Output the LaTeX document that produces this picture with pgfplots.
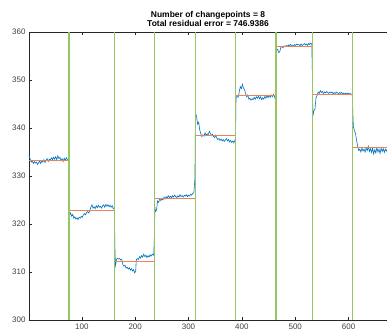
\documentclass[border=0pt]{standalone}
\usepackage{pgfplots}
\pgfplotsset{compat=1.18}
\usepackage{fontspec}
\setmainfont{Liberation Sans}
\definecolor{mblue}{RGB}{0,114,189}
\definecolor{morange}{RGB}{235,130,90}
\definecolor{mgreen}{RGB}{150,198,95}
\definecolor{maxis}{RGB}{38,38,38}
\begin{document}
\begin{tikzpicture}
\begin{axis}[
  scale only axis,
  width=358bp, height=288bp,
  xmin=1, xmax=672, ymin=300, ymax=360,
  axis x line=box, axis y line=left,
  axis line style={-, maxis, line width=0.5pt},
  xtick={100,200,300,400,500,600},
  ytick={300,310,320,330,340,350,360},
  tick align=inside,
  major tick length=3bp,
  tick style={maxis, line width=0.5pt},
  /pgf/number format/assume math mode=true,
  tick label style={font=\fontsize{8}{9}\selectfont, text=black!75},
  title={\textbf{Number of changepoints = 8}\\[-1pt]\textbf{Total residual error = 746.9386}},
  title style={align=center, font=\fontsize{8.5}{10}\selectfont, yshift=-4bp},
  unbounded coords=jump,
  clip=false,
]
% data
\addplot[mblue, line width=0.6pt] coordinates {
(1,334.3) (3,333.6) (5,332.9) (7,333.2) (9,332.6) (11,333.0) (13,332.7) (15,332.9) (17,332.4) (19,332.8)
(21,333.1) (23,332.6) (25,333.2) (27,332.9) (29,333.4) (31,332.8) (33,333.3) (35,333.6) (37,333.0) (39,333.5)
(41,333.3) (43,333.8) (45,333.4) (47,333.9) (49,333.5) (51,334.0) (53,333.4) (55,334.2) (57,333.6) (59,333.9)
(61,333.2) (63,333.6) (65,333.0) (67,333.7) (69,333.3) (71,333.8) (73,333.4) (75,333.1) (76,328.5)
(77,321.8) (79,322.3) (81,321.6) (83,322.0) (85,321.2) (87,321.5) (89,321.0) (91,321.3) (93,320.9) (95,321.4)
(97,321.2) (99,321.6) (101,321.4) (103,321.9) (105,322.2) (107,321.9) (109,322.4) (111,322.6) (113,322.3) (115,322.8)
(117,323.5) (119,324.0) (121,323.3) (123,323.6) (125,323.2) (127,323.8) (129,323.4) (131,323.9) (133,323.5) (135,323.7)
(137,323.3) (139,323.8) (141,324.0) (143,323.5) (145,324.1) (147,323.7) (149,324.0) (151,323.6) (153,323.9) (155,323.5)
(157,323.8) (159,323.2) (161,323.4) (162,315.0)
(163,311.4) (165,312.6) (167,312.9) (169,312.7) (171,312.8) (173,312.5) (175,312.6) (177,311.5) (179,311.2) (181,311.4)
(183,310.8) (185,311.0) (187,310.6) (189,310.9) (191,310.4) (193,310.7) (195,310.2) (197,310.5) (199,309.8) (201,310.2)
(202,312.5) (204,312.8) (206,312.6) (208,313.2) (210,312.9) (212,313.4) (214,313.1) (216,313.7) (218,313.2) (220,313.5)
(222,313.0) (224,313.4) (226,313.1) (228,313.6) (230,313.3) (232,313.7) (234,313.5) (235,314.0) (236,317.5)
(237,323.5) (238,322.6) (240,322.9) (242,324.8) (244,324.5) (246,325.2) (248,324.9) (250,325.3) (252,325.0) (254,325.6)
(256,325.2) (258,325.7) (260,325.4) (262,325.9) (264,325.5) (266,325.8) (268,325.4) (270,325.9) (272,325.6) (274,326.0)
(276,325.7) (278,325.5) (280,325.9) (282,325.6) (284,326.1) (286,325.7) (288,325.9) (290,325.6) (292,326.0) (294,325.8)
(296,326.1) (298,325.7) (300,326.0) (302,325.8) (304,326.2) (306,326.0) (308,326.4) (310,326.5) (312,329.5)
(313,343.0) (315,342.5) (317,340.8) (319,341.2) (321,339.6) (323,338.8) (325,338.2) (327,338.6) (329,338.3) (331,339.0)
(333,338.5) (335,338.8) (337,338.6) (339,339.3) (341,338.9) (343,338.4) (345,338.7) (347,338.2) (349,338.0) (351,338.5)
(353,337.9) (355,337.6) (357,337.8) (359,337.4) (361,337.7) (363,337.3) (365,337.6) (367,337.2) (369,337.5) (371,337.8)
(373,337.3) (375,337.6) (377,337.1) (379,337.4) (381,337.0) (383,337.3) (385,336.9) (387,337.5) (388,338.0)
(389,346.3) (391,346.6) (393,346.4) (395,347.5) (397,348.6) (399,348.2) (401,349.1) (403,348.3) (405,348.0) (407,347.2)
(409,346.5) (411,346.9) (413,346.0) (415,346.2) (417,345.8) (419,346.1) (421,345.9) (423,346.4) (425,346.0) (427,346.5)
(429,346.2) (431,346.6) (433,346.1) (435,346.5) (437,345.9) (439,346.3) (441,346.0) (443,346.6) (445,346.2) (447,346.7)
(449,346.3) (451,346.8) (453,346.4) (455,346.9) (457,346.5) (459,347.0) (461,346.6) (463,345.8) (464,350.0)
(465,356.2) (467,356.4) (469,355.7) (471,355.9) (473,356.8) (475,357.0) (477,356.7) (479,357.1) (481,356.9) (483,357.2)
(485,357.0) (487,357.3) (489,357.1) (491,357.4) (493,357.2) (495,357.3) (497,357.0) (499,357.4) (501,357.2) (503,357.5)
(505,357.3) (507,357.4) (509,357.1) (511,357.5) (513,357.2) (515,357.4) (517,357.6) (519,357.3) (521,357.5) (523,357.2)
(525,357.6) (527,357.4) (529,357.7) (531,357.5) (532,352.0)
(533,342.5) (535,343.6) (537,344.0) (539,346.3) (541,346.8) (543,347.5) (545,347.2) (547,347.8) (549,347.4) (551,347.6)
(553,347.2) (555,347.5) (557,347.3) (559,347.6) (561,347.4) (563,347.2) (565,347.5) (567,347.3) (569,347.5) (571,347.1)
(573,347.4) (575,347.2) (577,347.5) (579,347.3) (581,347.1) (583,347.4) (585,347.2) (587,347.4) (589,347.1) (591,347.3)
(593,347.0) (595,347.3) (597,347.1) (599,347.3) (601,347.0) (603,347.2) (605,346.9) (607,347.1) (608,343.0)
(609,340.2) (611,339.5) (613,338.8) (615,337.4) (617,336.2) (619,335.3) (621,335.6) (623,335.0) (625,335.8) (627,335.2)
(629,335.6) (631,335.0) (633,335.9) (635,335.3) (637,336.2) (639,335.1) (641,335.7) (643,334.9) (645,335.8) (647,334.6)
(649,335.5) (651,334.8) (653,335.9) (655,335.0) (657,335.6) (659,334.7) (661,335.8) (663,335.1) (665,335.7) (667,334.9)
(669,335.6) (671,335.2) (672,335.5)
};
% segment means
\addplot[morange, line width=0.9pt] coordinates {
(1,333.3) (76,333.3) (nan,nan)
(76,322.8) (162,322.8) (nan,nan)
(162,312.1) (236,312.1) (nan,nan)
(236,325.3) (313,325.3) (nan,nan)
(313,338.4) (388,338.4) (nan,nan)
(388,346.7) (464,346.7) (nan,nan)
(464,357.0) (532,357.0) (nan,nan)
(532,347.0) (608,347.0) (nan,nan)
(608,336.0) (672,336.0)
};
% changepoints
\addplot[mgreen, line width=1.1pt] coordinates {
(76,300) (76,360) (nan,nan)
(162,300) (162,360) (nan,nan)
(236,300) (236,360) (nan,nan)
(313,300) (313,360) (nan,nan)
(388,300) (388,360) (nan,nan)
(464,300) (464,360) (nan,nan)
(532,300) (532,360) (nan,nan)
(608,300) (608,360)
};
\coordinate (sw) at (rel axis cs:0,0);
\coordinate (ne) at (rel axis cs:1,1);
\end{axis}
\pgfresetboundingbox
\path ([shift={(-29bp,-12bp)}]sw) rectangle ([shift={(0bp,32bp)}]ne);
\end{tikzpicture}
\end{document}
